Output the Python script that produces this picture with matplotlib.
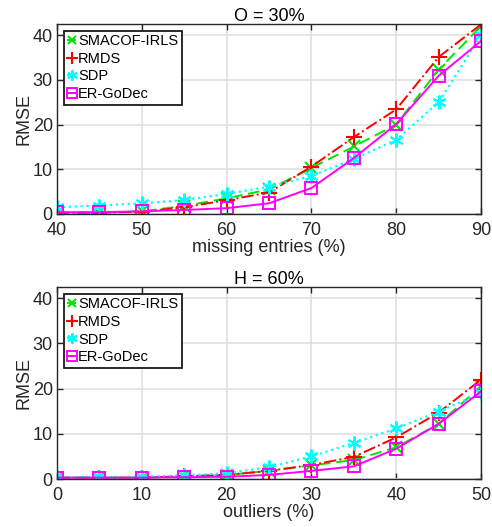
import numpy as np
import matplotlib.pyplot as plt

plt.rcParams['font.family'] = ['Liberation Sans', 'DejaVu Sans']

# top panel: O = 30%
missing = [40, 45, 50, 55, 60, 65, 70, 75, 80, 85, 90]
smacof_top = [0.3, 0.3, 0.6, 1.8, 3.5, 5.5, 10.3, 15.1, 20.0, 32.3, 42.0]
rmds_top = [0.3, 0.3, 0.5, 1.5, 3.1, 4.8, 10.6, 17.2, 23.4, 35.1, 42.4]
sdp_top = [1.5, 1.9, 2.4, 3.1, 4.5, 6.1, 8.5, 12.3, 16.6, 25.0, 40.0]
godec_top = [0.4, 0.4, 0.6, 0.9, 1.3, 2.4, 5.8, 12.5, 20.1, 30.9, 38.7]

# bottom panel: H = 60%
outliers = [0, 5, 10, 15, 20, 25, 30, 35, 40, 45, 50]
smacof_bot = [0.3, 0.3, 0.3, 0.6, 0.9, 1.8, 3.0, 4.2, 7.0, 12.2, 20.5]
rmds_bot = [0.3, 0.3, 0.3, 0.6, 0.9, 1.8, 3.1, 4.9, 9.2, 14.7, 22.0]
sdp_bot = [0.4, 0.4, 0.5, 0.8, 1.3, 2.6, 5.0, 8.0, 11.2, 14.9, 19.0]
godec_bot = [0.3, 0.3, 0.3, 0.4, 0.5, 0.9, 1.8, 2.8, 6.7, 12.2, 19.4]

names = ["SMACOF-IRLS", "RMDS", "SDP", "ER-GoDec"]

fig = plt.figure(figsize=(4.92, 5.27), dpi=100)
ax1 = fig.add_axes([57/492, 1-214/527, 424/492, 190/527])
ax2 = fig.add_axes([57/492, 1-479/527, 424/492, 192/527])

dark = '#262626'


def panel(ax, x, ys, xlabel, title, xticks):
    s, r, d, g = ys
    ax.plot(x, s, color=(0, 0.9, 0), ls=(0, (6, 3)), lw=1.4, marker='x', ms=8, mew=1.5)
    ax.plot(x, r, color='red', ls='-.', lw=1.4, marker='+', ms=11, mew=1.5)
    ax.plot(x, d, color='cyan', ls=':', lw=1.6, marker=(6, 2, 0), ms=10, mew=1.5)
    ax.plot(x, g, color='magenta', ls='-', lw=1.4, marker='s', ms=9, mew=1.4, mfc='none')
    ax.set_xlim(x[0], x[-1])
    ax.set_ylim(0, 42.5)
    ax.set_xticks(xticks)
    ax.set_yticks([0, 10, 20, 30, 40])
    ax.grid(True, color='#dedede', lw=1.1)
    ax.set_axisbelow(True)
    ax.tick_params(direction='in', top=True, right=True, labelsize=13, length=4, width=1,
                   colors=dark, labelcolor=dark)
    ax.tick_params(axis='x', pad=6)
    ax.tick_params(axis='y', pad=3)
    for sp in ax.spines.values():
        sp.set_linewidth(1.0)
        sp.set_color(dark)
    ax.set_xlabel(xlabel, fontsize=13, labelpad=0, color=dark)
    ax.set_ylabel("RMSE", fontsize=13, color=dark)
    ax.yaxis.set_label_coords(-0.057, 0.5)
    ax.set_title(title, fontsize=13, pad=2, color='black')
    leg = ax.legend(names, loc='upper left', fontsize=10.5, handlelength=0.6, handletextpad=0.15,
                    borderpad=0.25, labelspacing=0.25, fancybox=False, framealpha=1,
                    borderaxespad=0.45, edgecolor='#1a1a1a', markerscale=0.75)
    leg.get_frame().set_linewidth(1.3)


panel(ax1, missing, [smacof_top, rmds_top, sdp_top, godec_top],
      "missing entries (%)", "O = 30%", [40, 50, 60, 70, 80, 90])
panel(ax2, outliers, [smacof_bot, rmds_bot, sdp_bot, godec_bot],
      "outliers (%)", "H = 60%", [0, 10, 20, 30, 40, 50])

fig.savefig("out.png", dpi=100)
